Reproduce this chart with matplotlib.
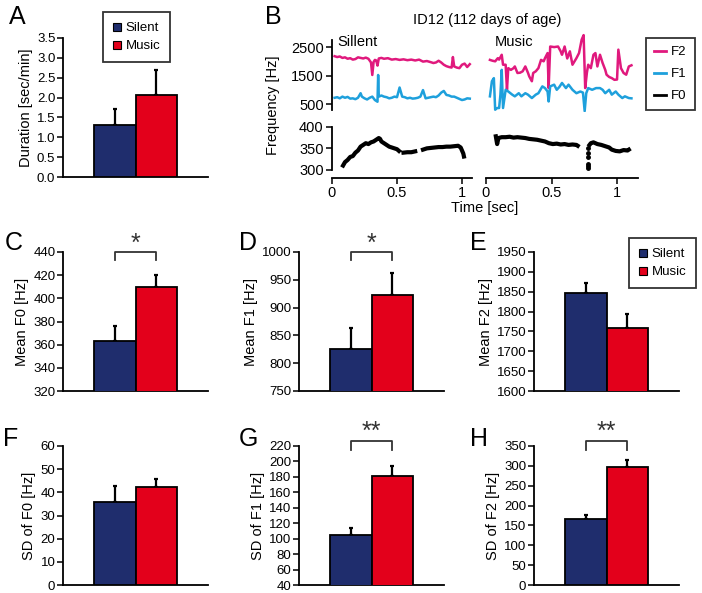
import numpy as np
import matplotlib
matplotlib.use("Agg")
import matplotlib.pyplot as plt
from matplotlib.lines import Line2D

plt.rcParams['font.family'] = ['Liberation Sans', 'DejaVu Sans']

W, H = 702, 593

groups = ["Silent", "Music"]
bar_colors = ["#1f2d6d", "#e3001b"]

# bar panels: mean and upper error (Silent, Music)
dur_mean = [1.30, 2.07]
dur_err = [0.42, 0.62]
f0_mean = [363.4, 410.0]
f0_err = [13.0, 10.0]
f1_mean = [826, 923]
f1_err = [37, 39]
f2_mean = [1847, 1758]
f2_err = [25, 35]
sd_f0_mean = [35.7, 42.2]
sd_f0_err = [6.9, 3.6]
sd_f1_mean = [105, 181]
sd_f1_err = [9, 13]
sd_f2_mean = [167, 298]
sd_f2_err = [10, 18]

# panel B, silent example
sil_f2_t = [0.02, 0.04, 0.06, 0.08, 0.10, 0.12, 0.14, 0.16, 0.18, 0.20, 0.22, 0.24, 0.26, 0.28,
            0.30, 0.31, 0.32, 0.33, 0.34, 0.35, 0.36, 0.38, 0.40, 0.43, 0.46, 0.49, 0.52, 0.55,
            0.58, 0.61, 0.64, 0.67, 0.70, 0.73, 0.76, 0.78, 0.80, 0.82, 0.84, 0.86, 0.88, 0.90,
            0.92, 0.93, 0.94, 0.96, 0.98, 1.00, 1.02, 1.04, 1.06]
sil_f2 = [2180, 2150, 2170, 2120, 2140, 2090, 2110, 2060, 2080, 2140, 2120, 2100, 2130, 2090,
          1960, 1520, 1980, 2050, 2030, 1850, 2100, 2120, 2090, 2110, 2060, 2080, 2050, 2070,
          2040, 2060, 2030, 2060, 1990, 2010, 1970, 1940, 1960, 2020, 1960, 1880, 1830, 1800,
          1780, 2150, 1820, 1780, 1760, 1880, 1920, 1800, 1900]
sil_f1_t = [0.02, 0.04, 0.06, 0.08, 0.10, 0.12, 0.14, 0.16, 0.18, 0.20, 0.22, 0.23, 0.25, 0.27,
            0.29, 0.31, 0.33, 0.35, 0.355, 0.36, 0.38, 0.40, 0.42, 0.44, 0.46, 0.48, 0.50, 0.52,
            0.54, 0.56, 0.58, 0.60, 0.62, 0.64, 0.66, 0.68, 0.70, 0.72, 0.74, 0.76, 0.78, 0.80,
            0.82, 0.84, 0.86, 0.88, 0.90, 0.92, 0.94, 0.96, 0.98, 1.00, 1.02, 1.04, 1.06]
sil_f1 = [720, 740, 700, 760, 720, 750, 690, 700, 670, 720, 880, 760, 700, 660,
          720, 760, 640, 580, 1520, 760, 800, 760, 740, 700, 720, 760, 740, 1080,
          760, 740, 700, 720, 690, 700, 720, 760, 990, 700, 720, 740, 760, 740,
          800, 900, 960, 820, 800, 760, 760, 720, 680, 640, 660, 700, 690]
sil_f0_t = [0.085, 0.10, 0.12, 0.14, 0.16, 0.18, 0.20, 0.22, 0.24, 0.26, 0.28, 0.30, 0.32, 0.34,
            0.36, 0.37, 0.38, 0.40, 0.42, 0.44, 0.46, 0.48, 0.50, 0.515, 0.53, 0.55, 0.58, 0.61,
            0.64, 0.67, 0.70, 0.73, 0.76, 0.79, 0.82, 0.85, 0.88, 0.91, 0.94, 0.97, 0.99, 1.00,
            1.01, 1.015]
sil_f0 = [310, 318, 323, 330, 332, 340, 345, 354, 358, 362, 360, 364, 366, 370,
          374, 372, 366, 362, 358, 354, 352, 350, 348, 344, np.nan, 340, 341, 341,
          343, np.nan, 347, 350, 351, 352, 353, 353, 354, 354, 355, 356, 352, 345,
          338, 331]

# panel B, music example
mus_f2_t = [0.03, 0.05, 0.07, 0.09, 0.10, 0.12, 0.13, 0.15, 0.16, 0.17, 0.19, 0.21, 0.22, 0.24,
            0.26, 0.28, 0.30, 0.32, 0.33, 0.35, 0.36, 0.38, 0.40, 0.42, 0.44, 0.45, 0.47, 0.478,
            0.49, 0.52, 0.55, 0.57, 0.58, 0.60, 0.62, 0.64, 0.66, 0.69, 0.71, 0.73, 0.745, 0.757,
            0.77, 0.78, 0.80, 0.82, 0.835, 0.85, 0.87, 0.89, 0.91, 0.92, 0.94, 0.96, 0.98, 1.00,
            1.01, 1.03, 1.05, 1.07, 1.09, 1.11]
mus_f2 = [2050, 2020, 2000, 2110, 2060, 2230, 1880, 1880, 1000, 1760, 1700, 1760, 1820, 1590,
          1600, 1650, 1820, 1600, 1470, 1300, 1590, 1650, 1760, 2050, 2000, 2110, 2290, 1060,
          2520, 2500, 2520, 2350, 2230, 2520, 2100, 2350, 1880, 2110, 2290, 2760, 2920, 1060,
          1600, 1880, 1760, 2230, 2290, 1820, 2230, 1940, 1700, 1530, 1450, 1410, 1350, 1360,
          2410, 1760, 1590, 1530, 1820, 1860]
mus_f1_t = [0.03, 0.045, 0.06, 0.07, 0.085, 0.10, 0.11, 0.12, 0.13, 0.15, 0.17, 0.20, 0.22, 0.25,
            0.27, 0.30, 0.32, 0.35, 0.38, 0.40, 0.43, 0.45, 0.47, 0.478, 0.49, 0.52, 0.54, 0.56,
            0.58, 0.61, 0.63, 0.66, 0.69, 0.72, 0.74, 0.753, 0.765, 0.78, 0.81, 0.84, 0.87, 0.89,
            0.91, 0.94, 0.96, 0.99, 1.01, 1.04, 1.06, 1.09, 1.11]
mus_f1 = [770, 1300, 1410, 300, 360, 360, 830, 1700, 360, 1000, 940, 830, 770, 880,
          770, 880, 830, 710, 830, 880, 1120, 1060, 940, 590, 1120, 1180, 1000, 1100,
          1240, 1060, 1180, 1000, 880, 940, 900, 250, 880, 1060, 1000, 1060, 1060, 1000,
          880, 1000, 830, 940, 830, 710, 770, 710, 700]
mus_f0_t = [0.075, 0.085, 0.095, 0.12, 0.15, 0.18, 0.21, 0.24, 0.27, 0.30, 0.33, 0.36, 0.39, 0.42,
            0.45, 0.48, 0.51, 0.54, 0.57, 0.60, 0.63, 0.66, 0.69, 0.70, 0.75, 0.79, 0.80, 0.82,
            0.85, 0.88, 0.91, 0.94, 0.96, 0.99, 1.02, 1.05, 1.08, 1.09]
mus_f0 = [378, 360, 374, 376, 376, 377, 375, 376, 375, 374, 372, 371, 370, 368,
          366, 362, 360, 361, 359, 360, 358, 359, 358, 356, np.nan, 358, 362, 364,
          360, 358, 355, 352, 347, 344, 343, 346, 345, 347]
mus_dots_t = [0.778, 0.778, 0.778, 0.778, 0.778, 0.778]
mus_dots = [350, 340, 330, 314, 308, 304]

col_f2 = "#e0197d"
col_f1 = "#1ea0dc"


def px_axes(fig, left, top, right, bottom):
    return fig.add_axes([left / W, 1 - bottom / H, (right - left) / W, (bottom - top) / H])


def bar_panel(fig, left, top, means, errs, ylim, step, ylabel, fmt="%d", sig=None, sig_y=(1.0, 0.94, 1.07)):
    ax = px_axes(fig, left, top, left + 145, top + 139)
    x = [1.25, 2.25]
    ax.bar(x, means, width=1.0, color=bar_colors, edgecolor="black", linewidth=1.3, zorder=3)
    ax.errorbar(x, means, yerr=[[0, 0], errs], fmt="none", ecolor="black",
                elinewidth=1.6, capsize=1.5, capthick=1.6, zorder=2)
    ax.set_xlim(0, 3.5)
    ax.set_ylim(ylim)
    ticks = np.arange(ylim[0], ylim[1] + step / 2, step)
    ax.set_yticks(ticks)
    ax.set_yticklabels([fmt % t for t in ticks])
    ax.set_xticks([])
    for s in ["top", "right"]:
        ax.spines[s].set_visible(False)
    for s in ["left", "bottom"]:
        ax.spines[s].set_linewidth(1.3)
    ax.tick_params(axis="y", labelsize=9.5, length=4, width=1.1, pad=1.5)
    ax.set_ylabel(ylabel, fontsize=10.5, labelpad=3)
    if sig:
        top_y, low_y, txt_y = sig_y
        tr = ax.get_xaxis_transform()
        ax.plot([1.25, 1.25, 2.25, 2.25], [low_y, top_y, top_y, low_y], color="#333333",
                lw=1.3, transform=tr, clip_on=False)
        ax.text(1.75, txt_y, sig, transform=tr, ha="center", va="center", fontsize=18, color="#333333")
    return ax


def group_legend(fig, handles, x, y):
    leg = fig.legend(handles, groups, loc="upper left", bbox_to_anchor=(x / W, 1 - y / H),
                     frameon=True, fancybox=False, edgecolor="black", fontsize=9.5,
                     handlelength=0.6, handletextpad=0.35, labelspacing=0.45, borderpad=0.75,
                     borderaxespad=0)
    leg.get_frame().set_linewidth(1.3)
    return leg


fig = plt.figure(figsize=(W / 100, H / 100), dpi=100)
fig.patch.set_facecolor("white")

handles = [Line2D([], [], marker="s", ls="none", markersize=6, markerfacecolor=c,
                  markeredgecolor="black", markeredgewidth=0.8) for c in bar_colors]

# A
bar_panel(fig, 63, 38, dur_mean, dur_err, (0, 3.5), 0.5, "Duration [sec/min]", fmt="%.1f")
group_legend(fig, handles, 103, 12)

# C, D, E
bar_panel(fig, 63, 252, f0_mean, f0_err, (320, 440), 20, "Mean F0 [Hz]", sig="*", sig_y=(1.0, 0.94, 1.06))
bar_panel(fig, 299, 252, f1_mean, f1_err, (750, 1000), 50, "Mean F1 [Hz]", sig="*", sig_y=(1.0, 0.94, 1.06))
bar_panel(fig, 534, 252, f2_mean, f2_err, (1600, 1950), 50, "Mean F2 [Hz]")
group_legend(fig, handles, 629, 238)

# F, G, H
bar_panel(fig, 63, 446, sd_f0_mean, sd_f0_err, (0, 60), 10, "SD of F0 [Hz]")
bar_panel(fig, 299, 446, sd_f1_mean, sd_f1_err, (40, 220), 20, "SD of F1 [Hz]", sig="**", sig_y=(1.035, 0.97, 1.10))
bar_panel(fig, 534, 446, sd_f2_mean, sd_f2_err, (0, 350), 50, "SD of F2 [Hz]", sig="**", sig_y=(1.035, 0.97, 1.10))

# B
ul = px_axes(fig, 332, 30, 472, 112)
ll = px_axes(fig, 332, 120, 472, 178)
ur = px_axes(fig, 486, 30, 638, 112)
lr = px_axes(fig, 486, 120, 638, 178)
ul.plot(sil_f2_t, sil_f2, color=col_f2, lw=1.8)
ul.plot(sil_f1_t, sil_f1, color=col_f1, lw=1.8)
ll.plot(sil_f0_t, sil_f0, color="black", lw=3)
ur.plot(mus_f2_t, mus_f2, color=col_f2, lw=1.8)
ur.plot(mus_f1_t, mus_f1, color=col_f1, lw=1.8)
lr.plot(mus_f0_t, mus_f0, color="black", lw=3)
lr.plot(mus_dots_t, mus_dots, "o", color="black", markersize=2.5)

for ax in [ul, ur]:
    ax.set_ylim(220, 3100)
    ax.set_xlim(0, 1.077 if ax is ul else 1.16)
for ax in [ll, lr]:
    ax.set_ylim(281, 416)
    ax.set_xlim(0, 1.077 if ax is ll else 1.16)
for ax in [ul, ll, ur, lr]:
    for s in ["top", "right", "left", "bottom"]:
        ax.spines[s].set_visible(False)
        ax.spines[s].set_linewidth(1.3)
    ax.set_xticks([])
    ax.set_yticks([])
    ax.tick_params(labelsize=10.5, length=4, width=1.1, pad=2)
ul.spines["left"].set_visible(True)
ul.spines["left"].set_bounds(290, 2750)
ul.set_yticks([500, 1500, 2500])
ll.spines["left"].set_visible(True)
ll.spines["left"].set_bounds(300, 400)
ll.set_yticks([300, 350, 400])
for ax in [ll, lr]:
    ax.spines["bottom"].set_visible(True)
    ax.set_xticks([0, 0.5, 1])
    ax.set_xticklabels(["0", "0.5", "1"])
ul.text(0.04, 2680, "Sillent", fontsize=10.5, va="center")
ur.text(0.07, 2680, "Music", fontsize=10.5, va="center")

fig.text(487 / W, 1 - 20 / H, "ID12 (112 days of age)", fontsize=10.5, ha="center", va="center")
fig.text(485 / W, 1 - 208 / H, "Time [sec]", fontsize=10.5, ha="center", va="center")
fig.text(273 / W, 1 - 105 / H, "Frequency [Hz]", fontsize=10.5, ha="center", va="center", rotation=90)

b_handles = [Line2D([], [], color=c, lw=2) for c in [col_f2, col_f1, "black"]]
legB = fig.legend(b_handles, ["F2", "F1", "F0"], loc="upper left", bbox_to_anchor=(646 / W, 1 - 38 / H),
                  frameon=True, fancybox=False, edgecolor="black", fontsize=9.5,
                  handlelength=0.9, handletextpad=0.4, labelspacing=0.75, borderpad=0.6,
                  borderaxespad=0)
legB.get_frame().set_linewidth(1.3)

# panel letters
letters = [("A", 17, 17), ("B", 273, 17), ("C", 14, 243), ("D", 248, 243), ("E", 478, 243),
           ("F", 11, 439), ("G", 248, 439), ("H", 479, 439)]
for lab, lx, ly in letters:
    fig.text(lx / W, 1 - ly / H, lab, fontsize=18, ha="center", va="center")

fig.savefig("out.png", dpi=100)
